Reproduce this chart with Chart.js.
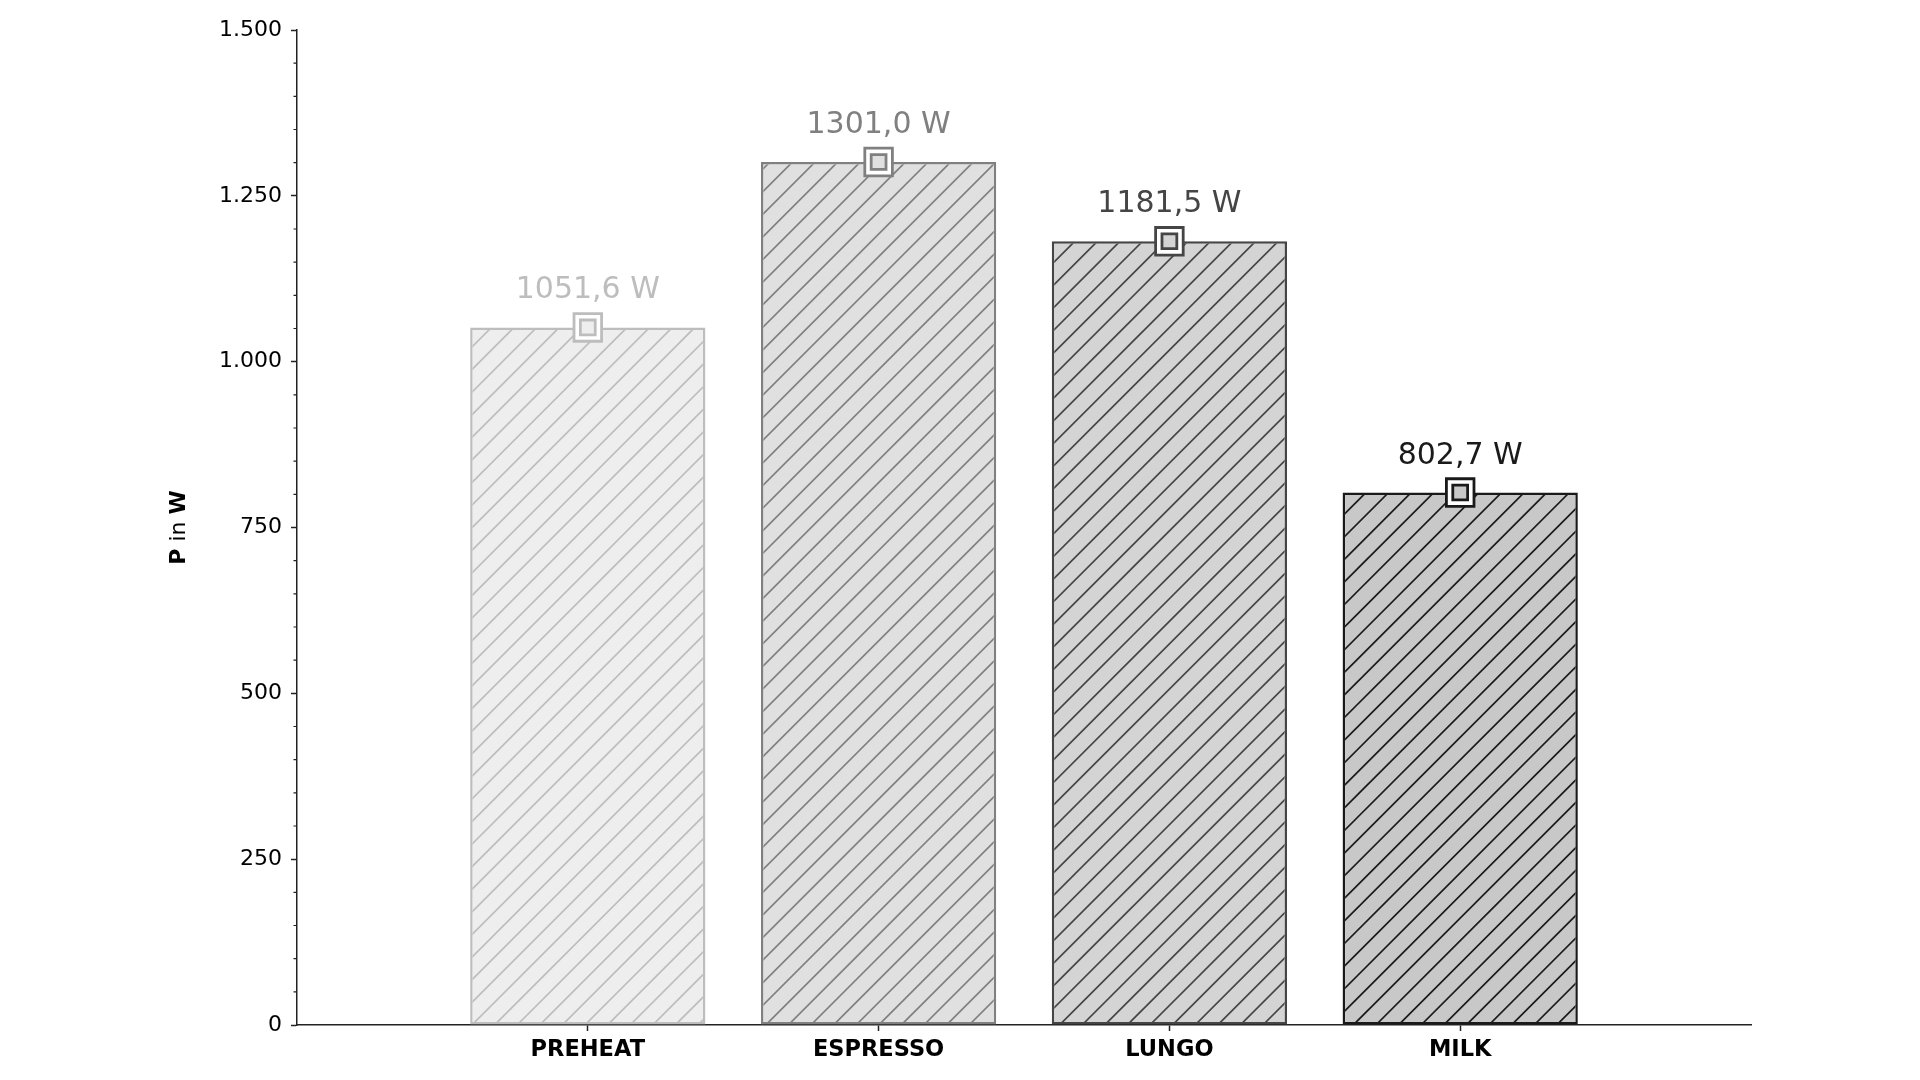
<!DOCTYPE html>
<html>
<head>
<meta charset="utf-8">
<script src="https://cdn.jsdelivr.net/npm/chart.js@4.4.1/dist/chart.umd.min.js"></script>
<style>
  html, body { margin: 0; padding: 0; background: #fff; }
  canvas { display: block; }
</style>
</head>
<body>
<canvas id="chart" width="1920" height="1080"></canvas>
<script>
var categories = ['PREHEAT', 'ESPRESSO', 'LUNGO', 'MILK'];
var power = [1051.6, 1301.0, 1181.5, 802.7];
var yTicks = [0, 250, 500, 750, 1000, 1250, 1500];
var yMinorStep = 50;

var fillColors = ['#eeeeee', '#e0e0e0', '#d4d4d4', '#c8c8c8'];
var edgeColors = ['#bdbdbd', '#808080', '#454545', '#1a1a1a'];

// one empty slot each side, so the x axis runs from -1 to 4
var labels = [''].concat(categories, [' ']);
var padded = [null].concat(power, [null]);
function pad(arr, v) { return [v].concat(arr, [v]); }

function hatch(fill, line) {
    var step = 22.6, size = 226;
    var c = document.createElement('canvas');
    c.width = size; c.height = size;
    var g = c.getContext('2d');
    g.fillStyle = fill;
    g.fillRect(0, 0, size, size);
    g.strokeStyle = line;
    g.lineWidth = 1.7;
    g.beginPath();
    for (var k = -2; k <= 22; k++) {
        var s = k * step + 5.3;
        g.moveTo(s + 20, -20);
        g.lineTo(s - size - 20, size + 20);
    }
    g.stroke();
    return document.getElementById('chart').getContext('2d').createPattern(c, 'repeat');
}

function fmtThousands(v) {
    return String(v).replace(/\B(?=(\d{3})+(?!\d))/g, '.');
}

var patterns = categories.map(function(c, i) { return hatch(fillColors[i], edgeColors[i]); });

var valueLabels = {
    id: 'valueLabels',
    afterDatasetsDraw: function(chart) {
        var meta = chart.getDatasetMeta(0);
        var ctx = chart.ctx;
        ctx.save();
        ctx.font = '30px "DejaVu Sans"';
        ctx.textAlign = 'center';
        ctx.textBaseline = 'alphabetic';
        for (var i = 0; i < power.length; i++) {
            var bar = meta.data[i + 1];
            ctx.fillStyle = edgeColors[i];
            ctx.fillText(power[i].toFixed(1).replace('.', ',') + ' W', bar.x, bar.y - 29);
        }
        ctx.restore();
    }
};

var yTitle = {
    id: 'yTitle',
    afterDraw: function(chart) {
        var ctx = chart.ctx, area = chart.chartArea;
        var parts = [['P', 'bold'], [' in ', 'normal'], ['W', 'bold']];
        ctx.save();
        ctx.translate(area.left - 118, (area.top + area.bottom) / 2);
        ctx.rotate(-Math.PI / 2);
        ctx.fillStyle = '#000';
        ctx.textBaseline = 'middle';
        ctx.textAlign = 'left';
        var total = 0;
        parts.forEach(function(p) {
            ctx.font = p[1] + ' 22px "DejaVu Sans"';
            p.push(ctx.measureText(p[0]).width);
            total += p[2];
        });
        var x = -total / 2;
        parts.forEach(function(p) {
            ctx.font = p[1] + ' 22px "DejaVu Sans"';
            ctx.fillText(p[0], x, 0);
            x += p[2];
        });
        ctx.restore();
    }
};

var minorTicks = {
    id: 'minorTicks',
    afterDraw: function(chart) {
        var s = chart.scales.y, ctx = chart.ctx;
        ctx.save();
        ctx.strokeStyle = '#222';
        ctx.lineWidth = 1.2;
        ctx.beginPath();
        for (var v = 0; v <= yTicks[yTicks.length - 1]; v += yMinorStep) {
            if (yTicks.indexOf(v) >= 0) continue;
            var py = s.getPixelForValue(v);
            ctx.moveTo(s.right - 3.5, py);
            ctx.lineTo(s.right, py);
        }
        ctx.stroke();
        ctx.restore();
    }
};

Chart.defaults.font.family = '"DejaVu Sans"';

new Chart(document.getElementById('chart'), {
    type: 'bar',
    data: {
        labels: labels,
        datasets: [
            {
                data: padded,
                backgroundColor: pad(patterns, 'transparent'),
                borderColor: pad(edgeColors, 'transparent'),
                borderWidth: 2.5,
                borderSkipped: false,
                categoryPercentage: 1,
                barPercentage: 0.809,
                order: 2
            },
            {
                type: 'line',
                data: padded,
                showLine: false,
                pointStyle: 'rect',
                pointRadius: 19.5,
                pointBorderWidth: 2.8,
                pointBackgroundColor: '#ffffff',
                pointBorderColor: pad(edgeColors, 'transparent'),
                order: 1
            },
            {
                type: 'line',
                data: padded,
                showLine: false,
                pointStyle: 'rect',
                pointRadius: 10.5,
                pointBorderWidth: 2.8,
                pointBackgroundColor: pad(fillColors, 'transparent'),
                pointBorderColor: pad(edgeColors, 'transparent'),
                order: 0
            }
        ]
    },
    options: {
        responsive: false,
        animation: false,
        layout: { padding: { top: 30, right: 169, left: 0, bottom: 0 } },
        plugins: { legend: { display: false }, tooltip: { enabled: false } },
        scales: {
            x: {
                type: 'category',
                offset: false,
                grid: {
                    display: true,
                    offset: false,
                    drawOnChartArea: false,
                    drawTicks: true,
                    tickLength: 6,
                    tickWidth: 1.5,
                    tickColor: function(c) {
                        return (c.index === 0 || c.index === labels.length - 1) ? 'rgba(0,0,0,0)' : '#222';
                    }
                },
                border: { display: true, color: '#222', width: 1.5 },
                ticks: { color: '#000', font: { size: 22.5, weight: 'bold' }, padding: 6, maxRotation: 0, autoSkip: false },
                afterFit: function(s) { s.height = 55; }
            },
            y: {
                min: 0,
                max: yTicks[yTicks.length - 1],
                afterBuildTicks: function(s) { s.ticks = yTicks.map(function(v) { return { value: v }; }); },
                grid: {
                    display: true,
                    drawOnChartArea: false,
                    drawTicks: true,
                    tickLength: 6,
                    tickWidth: 1.5,
                    tickColor: '#222'
                },
                border: { display: true, color: '#222', width: 1.5 },
                ticks: { color: '#000', font: { size: 22 }, padding: 9, callback: function(v) { return fmtThousands(v); } },
                afterFit: function(s) { s.width = 297; }
            }
        }
    },
    plugins: [valueLabels, yTitle, minorTicks]
});
</script>
</body>
</html>
